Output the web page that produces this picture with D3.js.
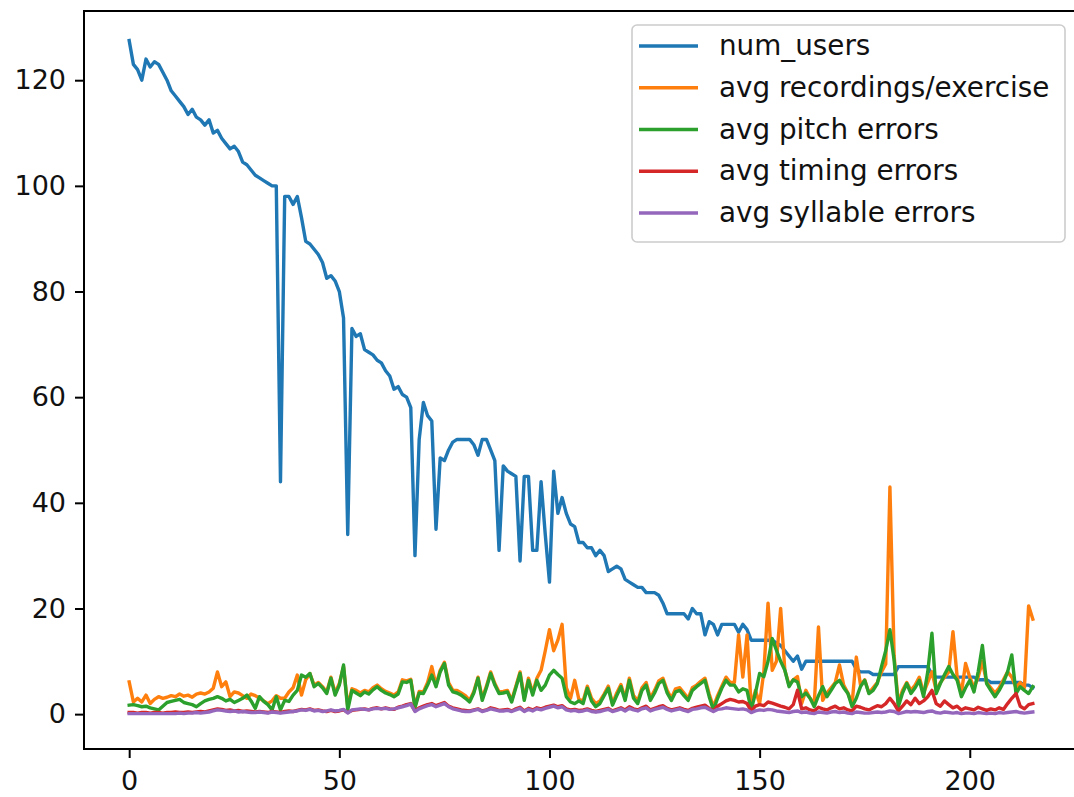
<!DOCTYPE html>
<html>
<head>
<meta charset="utf-8">
<script src="https://cdn.jsdelivr.net/npm/d3@7"></script>
<style>
  html, body { margin: 0; padding: 0; background: #fff; }
  svg { display: block; font-family: "DejaVu Sans", sans-serif; }
</style>
</head>
<body>
<svg id="chart" width="1074" height="797"></svg>
<script>
// ---------------- DATA ----------------
const seriesNames = ["num_users", "avg recordings/exercise", "avg pitch errors", "avg timing errors", "avg syllable errors"];
const xTicks = [0, 50, 100, 150, 200];
const yTicks = [0, 20, 40, 60, 80, 100, 120];

const numUsers = [
  127.5, 123, 122, 120, 124, 122.5, 123.5, 123, 121.5, 120,
  118, 117, 116, 115, 113.5, 114.5, 113, 112.5, 111.5, 112.5,
  110, 110.5, 109, 108, 107, 107.5, 106.5, 104.5, 104, 103,
  102, 101.5, 101, 100.5, 100, 100, 44, 98, 98, 96.5,
  98, 94, 89.5, 89, 88, 87, 85.5, 82.5, 83, 82,
  80, 75, 34, 73, 71.5, 72, 69, 68.5, 68, 67,
  66.5, 65, 64, 61.5, 62, 60.5, 60, 58, 30, 52,
  59, 56.5, 55.5, 35, 48.5, 48, 50, 51.5, 52, 52,
  52, 52, 51, 49, 52, 52, 50, 48, 31, 47,
  46, 45.5, 45, 29, 45, 45, 31, 31, 44, 34,
  25, 46, 38, 41, 38, 36, 35.5, 32.5, 32.5, 31.5,
  31.5, 30, 31, 30, 27, 27.5, 28, 27.5, 25.5, 25,
  24.5, 24, 24, 23, 23, 23, 22.5, 21, 19, 19,
  19, 19, 19, 18, 20, 19, 19, 15, 17.5, 17,
  15, 17, 17, 17, 17, 15.5, 17, 16, 14, 14,
  14, 14, 14, 14, 13.5, 13, 12, 11, 10, 11,
  8.5, 10, 10, 10, 10, 10, 10, 10, 10, 10,
  10, 10, 10, 8.5, 8, 8, 8, 7.5, 7.5, 7.5,
  7.5, 7.5, 7.5, 9, 9, 9, 9, 9, 9, 9,
  9, 7.5, 7, 7, 7, 7, 7, 7, 7, 7,
  7, 7, 6.5, 6.5, 6.5, 6, 6, 6, 6, 6,
  6, 6, 6, 5.5, 5.5, 5
];

const avgRecordings = [
  6.1, 2.3, 3.0, 2.3, 3.6, 2.0, 2.8, 3.3, 3.0, 3.2,
  3.5, 3.3, 3.8, 3.4, 3.6, 3.2, 3.8, 4.0, 3.8, 4.2,
  4.9, 8.0, 5.2, 6.1, 3.3, 4.2, 4.0, 3.5, 3.0, 3.8,
  3.5, 3.0, 2.5, 2.0, 2.5, 3.5, 3.0, 3.0, 4.2, 5.0,
  7.4, 3.6, 6.5, 7.7, 5.5, 6.0, 5.2, 4.2, 7.0, 4.0,
  5.8, 9.0, 1.5, 4.8, 4.5, 4.0, 4.5, 4.2, 5.0, 5.5,
  4.8, 4.3, 4.0, 3.6, 4.2, 6.5, 6.3, 6.6, 1.5, 4.3,
  4.2, 6.0, 9.0, 5.5, 8.3, 9.8, 6.0, 4.5, 4.5, 4.0,
  3.5, 2.6, 4.3, 7.0, 3.0, 5.3, 8.0, 5.8, 4.2, 4.3,
  4.5, 2.6, 5.3, 8.0, 3.0, 6.8, 4.0, 6.8, 8.3, 12,
  16, 12, 14, 17, 5.0, 3.0, 6.4, 2.8, 2.5, 5.3,
  3.0, 2.0, 2.5, 3.8, 5.3, 2.0, 4.0, 5.6, 3.0, 6.8,
  3.5, 2.5, 5.0, 6.0, 3.0, 4.5, 6.3, 6.8, 4.5, 3.0,
  4.8, 5.0, 4.0, 3.0, 5.0, 5.5, 6.2, 6.8, 3.8, 1.4,
  3.5, 5.3, 7.0, 6.0, 6.0, 15, 7.0, 15, 1.4, 4.5,
  2.0, 8.0, 21, 8.3, 10, 20, 8.3, 5.5, 6.5, 7.1,
  2.0, 4.5, 3.0, 2.0, 16.5, 2.6, 4.0, 5.0, 6.0, 9.3,
  5.5, 4.0, 2.0, 10.8, 5.5, 6.5, 4.0, 5.0, 6.0, 8.0,
  9.5, 43, 11, 2.0, 4.5, 6.0, 4.5, 5.5, 7.0, 4.0,
  6.0, 8.0, 4.5, 6.0, 7.0, 8.0, 15.6, 7.0, 4.0, 9.6,
  7.0, 5.0, 7.0, 10, 6.0, 5.0, 4.0, 5.0, 6.5, 8.0,
  7.0, 5.0, 6.0, 5.0, 20.5, 18
];

const avgPitch = [
  1.7, 1.8, 1.6, 1.4, 1.5, 1.2, 1.0, 0.8, 1.5, 2.2,
  2.4, 2.6, 2.8, 2.2, 2.0, 1.8, 1.4, 2.0, 2.5, 2.8,
  3.0, 3.3, 3.0, 2.5, 2.8, 2.2, 2.6, 3.0, 3.6, 2.5,
  1.1, 3.3, 2.4, 1.8, 0.8, 3.3, 0.8, 2.6, 2.4, 3.6,
  4.5, 7.4, 7.0, 7.7, 5.2, 5.8, 5.0, 3.9, 6.8, 3.6,
  5.5, 9.3, 0.8, 4.5, 4.0, 3.5, 4.2, 3.8, 4.6, 5.2,
  4.5, 4.0, 3.7, 3.3, 3.8, 6.1, 6.0, 6.4, 1.2, 4.0,
  3.9, 5.5, 7.4, 5.2, 8.0, 9.6, 5.5, 4.2, 4.0, 3.6,
  3.0, 2.3, 4.0, 6.8, 2.6, 5.0, 7.7, 5.5, 3.9, 4.0,
  4.2, 2.3, 5.0, 7.7, 2.6, 6.4, 3.6, 6.4, 4.5, 5.5,
  7.4, 8.3, 7.5, 6.8, 3.3, 2.3, 2.0, 2.5, 2.0, 4.9,
  2.5, 1.4, 2.0, 3.5, 4.9, 1.7, 3.5, 5.2, 2.6, 6.4,
  3.0, 2.0, 4.5, 5.5, 2.6, 4.0, 5.8, 6.4, 4.0, 2.6,
  4.2, 4.5, 3.5, 2.6, 4.5, 5.2, 5.8, 6.4, 3.3, 0.8,
  3.0, 4.9, 6.4, 5.5, 5.5, 4.2, 4.8, 4.5, 0.8, 4.0,
  7.7, 7.1, 10, 14.3, 12.1, 10, 8.3, 5.2, 6.5, 6.1,
  3.3, 4.0, 3.0, 1.4, 3.5, 5.2, 3.3, 4.5, 5.8, 6.4,
  5.0, 3.9, 1.4, 3.0, 5.2, 6.4, 3.9, 4.5, 5.8, 9.0,
  12, 16, 10.2, 1.4, 4.0, 5.8, 3.9, 5.0, 6.4, 3.3,
  8, 15.3, 3.9, 5.8, 7.5, 9.0, 7.5, 6.4, 3.3, 5.0,
  6.4, 4.2, 8.0, 13, 5.8, 4.5, 3.3, 4.5, 6.0, 8.0,
  11.2, 3.9, 5.2, 4.5, 3.9, 5.2
];

const avgTiming = [
  0.3, 0.3, 0.2, 0.3, 0.3, 0.2, 0.3, 0.3, 0.2, 0.3,
  0.3, 0.4, 0.3, 0.3, 0.4, 0.3, 0.4, 0.5, 0.4, 0.6,
  0.8, 1.0, 0.9, 0.7, 0.8, 0.6, 0.7, 0.5, 0.6, 0.5,
  0.4, 0.5, 0.4, 0.3, 0.5, 0.4, 0.3, 0.5, 0.6, 0.5,
  0.7, 0.9, 0.8, 1.0, 0.7, 0.8, 0.6, 0.5, 0.7, 0.5,
  0.6, 0.8, 0.3, 0.7, 0.8, 0.9, 1.0, 0.8, 1.1, 1.2,
  1.0, 1.2, 1.0, 0.9, 1.3, 1.5, 1.8, 2.0, 0.6, 1.2,
  1.5, 1.8, 2.0, 1.6, 1.9, 2.2, 1.5, 1.2, 1.0, 0.8,
  0.7, 0.6, 0.8, 1.0, 0.6, 0.8, 1.2, 1.0, 0.7, 0.8,
  0.9, 0.6, 1.0, 1.3, 0.6, 1.1, 0.8, 1.2, 1.0, 1.3,
  1.5, 1.7, 1.4, 1.6, 1.0, 0.8, 0.9, 0.7, 0.8, 1.0,
  0.7, 0.5, 0.7, 0.9, 1.1, 0.6, 0.9, 1.2, 0.8, 1.4,
  1.0, 0.8, 1.2, 1.5, 0.8, 1.1, 1.4, 1.6, 1.1, 0.8,
  1.0, 1.2, 0.9, 0.7, 1.1, 1.3, 1.5, 1.7, 1.1, 0.6,
  1.5, 2.0, 2.5, 2.8, 2.6, 2.3, 2.4, 2.0, 0.6, 1.5,
  1.8, 1.6, 2.3, 2.1, 1.8, 1.5, 1.3, 1.0, 1.8, 4.5,
  1.0, 1.2, 0.8, 0.6, 1.3, 1.0, 0.8, 1.2, 1.5, 1.0,
  1.2, 0.8, 0.6, 1.5, 1.3, 1.0, 0.8, 1.2, 1.6, 1.4,
  2.0, 3.0, 2.0, 0.6, 1.5, 2.5, 1.8, 3.0, 2.0, 2.5,
  3.3, 4.5, 2.0, 1.5, 2.5, 1.8, 1.2, 1.5, 0.8, 1.2,
  1.0, 0.8, 1.3, 1.0, 0.7, 1.0, 0.8, 1.2, 0.9, 2.0,
  3.0, 3.9, 1.5, 1.0, 1.8, 2.0
];

const avgSyllable = [
  0.1, 0.1, 0.1, 0.1, 0.1, 0.1, 0.1, 0.1, 0.1, 0.1,
  0.1, 0.1, 0.2, 0.1, 0.2, 0.2, 0.3, 0.2, 0.3, 0.4,
  0.6, 0.8, 0.7, 0.6, 0.5, 0.6, 0.4, 0.5, 0.4, 0.3,
  0.3, 0.4, 0.3, 0.2, 0.4, 0.3, 0.2, 0.3, 0.4, 0.5,
  0.6, 0.8, 0.7, 0.9, 0.6, 0.7, 0.5, 0.6, 0.8, 0.6,
  0.7, 0.9, 0.2, 0.8, 0.9, 1.0, 0.9, 0.8, 1.0, 1.1,
  1.0, 1.1, 0.9, 1.0, 1.2, 1.4, 1.6, 1.9, 0.5, 1.0,
  1.3, 1.6, 1.8, 1.4, 1.7, 2.0, 1.4, 1.0, 0.8, 0.6,
  0.5, 0.5, 0.7, 0.9, 0.5, 0.7, 1.0, 0.8, 0.6, 0.6,
  0.7, 0.5, 0.8, 1.1, 0.5, 0.9, 0.6, 1.0, 0.8, 1.1,
  1.3, 1.5, 1.2, 1.4, 0.8, 0.6, 0.7, 0.5, 0.6, 0.8,
  0.5, 0.4, 0.5, 0.7, 0.9, 0.5, 0.7, 1.0, 0.6, 1.1,
  0.8, 0.6, 1.0, 1.2, 0.6, 0.9, 1.1, 1.3, 0.9, 0.6,
  0.8, 1.0, 0.7, 0.5, 0.9, 1.0, 1.2, 1.3, 0.9, 0.5,
  0.9, 1.0, 1.2, 1.1, 1.0, 0.9, 1.0, 0.8, 0.3, 0.6,
  0.8, 0.7, 0.9, 0.8, 0.6, 0.5, 0.4, 0.3, 0.5, 0.6,
  0.3, 0.4, 0.2, 0.1, 0.4, 0.3, 0.2, 0.4, 0.5, 0.3,
  0.4, 0.2, 0.1, 0.4, 0.3, 0.2, 0.2, 0.3, 0.4, 0.3,
  0.4, 0.6, 0.5, 0.1, 0.3, 0.5, 0.4, 0.5, 0.4, 0.3,
  0.5, 0.6, 0.3, 0.2, 0.4, 0.3, 0.2, 0.3, 0.1, 0.2,
  0.2, 0.1, 0.3, 0.2, 0.1, 0.2, 0.1, 0.3, 0.2, 0.3,
  0.4, 0.5, 0.3, 0.2, 0.3, 0.4
];

const seriesColors = ["#1f77b4", "#ff7f0e", "#2ca02c", "#d62728", "#9467bd"];

// ---------------- LAYOUT ----------------
const W = 1074, H = 797;
const axLeft = 84, axTop = 11, axRight = 1078, axBottom = 749;
const tickFont = 27;
const legendFont = 27.8;

const series = [numUsers, avgRecordings, avgPitch, avgTiming, avgSyllable].map((vals, k) => ({
  name: seriesNames[k], color: seriesColors[k], values: vals
}));

const nPts = numUsers.length;
const x = d3.scaleLinear().domain([-0.05 * (nPts - 1), (nPts - 1) * 1.05]).range([axLeft, axRight]);
const y = d3.scaleLinear().domain([-6.6, 133.1]).range([axBottom, axTop]);

const svg = d3.select("#chart");
svg.append("rect").attr("width", W).attr("height", H).attr("fill", "#fff");

svg.append("defs").append("clipPath").attr("id", "clip")
  .append("rect").attr("x", axLeft).attr("y", axTop)
  .attr("width", axRight - axLeft).attr("height", axBottom - axTop);

const line = d3.line().x((d, i) => x(i)).y(d => y(d));

const plot = svg.append("g").attr("clip-path", "url(#clip)");
series.forEach(s => {
  plot.append("path")
    .datum(s.values)
    .attr("d", line)
    .attr("fill", "none")
    .attr("stroke", s.color)
    .attr("stroke-width", 3.4)
    .attr("stroke-linejoin", "round")
    .attr("stroke-linecap", "square");
});

// Axes
const xAxis = d3.axisBottom(x).tickValues(xTicks).tickSize(9).tickPadding(13).tickFormat(d3.format("d"));
const yAxis = d3.axisLeft(y).tickValues(yTicks).tickSize(9).tickPadding(9).tickFormat(d3.format("d"));

const gx = svg.append("g").attr("transform", `translate(0,${axBottom})`).call(xAxis);
const gy = svg.append("g").attr("transform", `translate(${axLeft},0)`).call(yAxis);
[gx, gy].forEach(g => {
  g.select(".domain").remove();
  g.selectAll(".tick line").attr("stroke", "#000").attr("stroke-width", 2);
  g.selectAll(".tick text").attr("fill", "#111").attr("font-size", tickFont)
    .attr("font-family", "DejaVu Sans, sans-serif");
});

// Spines
svg.append("rect")
  .attr("x", axLeft).attr("y", axTop)
  .attr("width", axRight - axLeft).attr("height", axBottom - axTop)
  .attr("fill", "none").attr("stroke", "#000").attr("stroke-width", 2);

// Legend
const lg = svg.append("g");
lg.append("rect")
  .attr("x", 632).attr("y", 25).attr("width", 433).attr("height", 217)
  .attr("rx", 5).attr("ry", 5)
  .attr("fill", "#fff").attr("fill-opacity", 0.8)
  .attr("stroke", "#cccccc").attr("stroke-width", 1.6);

const rowY = d3.scaleLinear().domain([0, series.length - 1]).range([46, 213]);
series.forEach((s, k) => {
  const yy = rowY(k);
  lg.append("line")
    .attr("x1", 639).attr("x2", 698).attr("y1", yy).attr("y2", yy)
    .attr("stroke", s.color).attr("stroke-width", 3.4);
  lg.append("text")
    .attr("x", 719).attr("y", yy).attr("dy", "0.33em")
    .attr("font-size", legendFont).attr("fill", "#111")
    .text(s.name);
});
</script>
</body>
</html>
